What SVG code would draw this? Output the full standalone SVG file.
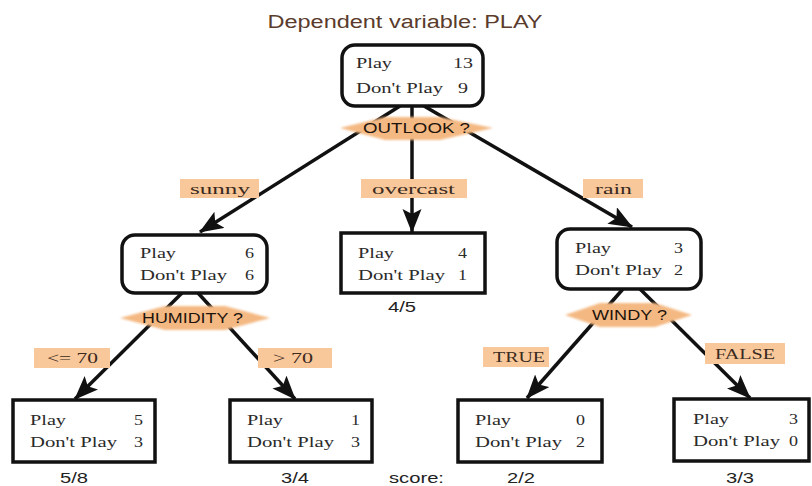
<svg xmlns="http://www.w3.org/2000/svg" width="812" height="486" viewBox="0 0 812 486">
<defs>
<style>
.box{fill:#fff;stroke:#111;stroke-width:3.5}
.nt{font-family:"Liberation Serif","Times New Roman",serif;font-size:14.5px;fill:#2a2a2a}
.num{font-family:"Liberation Serif","Times New Roman",serif;font-size:14.5px;fill:#2a2a2a;text-anchor:end}
.lab{fill:#f8c89b}
.lt{font-family:"Liberation Serif","Times New Roman",serif;font-size:14.5px;fill:#3a2a20}
.dia{fill:#f4b983;filter:url(#soft)}
.dt{font-family:"Liberation Sans",Arial,sans-serif;font-size:14px;fill:#1e140c}
.sc{font-family:"Liberation Sans",Arial,sans-serif;font-size:15px;fill:#222}
.edge{stroke:#111;stroke-width:3.5;fill:none;marker-end:url(#ah)}
</style>
<marker id="ah" markerUnits="userSpaceOnUse" markerWidth="26" markerHeight="20" refX="23" refY="9.5" orient="auto">
<path d="M0,0 L24,9.5 L0,19 L5,9.5 Z" fill="#111"/>
</marker>
<filter id="soft" x="-10%" y="-40%" width="120%" height="180%">
<feGaussianBlur stdDeviation="1.3"/>
</filter>
</defs>
<rect width="812" height="486" fill="#fff"/>

<text x="405" y="28" text-anchor="middle" font-family="Liberation Sans, Arial, sans-serif" font-size="18" fill="#5a3b2c" textLength="275" lengthAdjust="spacingAndGlyphs">Dependent variable: PLAY</text>

<g id="connectors">
<line class="edge" x1="400" y1="106" x2="200" y2="232"/>
<line class="edge" x1="412" y1="106" x2="412" y2="232"/>
<line class="edge" x1="424" y1="106" x2="632" y2="227"/>
<line class="edge" x1="182" y1="293" x2="75" y2="399"/>
<line class="edge" x1="198" y1="293" x2="295" y2="399"/>
<line class="edge" x1="623" y1="289" x2="527" y2="398"/>
<line class="edge" x1="640" y1="289" x2="750" y2="398"/>
</g>

<g id="label-sunny"><rect class="lab" x="180" y="179" width="79" height="19"/><text class="lt" x="190" y="194" textLength="60" lengthAdjust="spacingAndGlyphs">sunny</text></g>
<g id="label-overcast"><rect class="lab" x="361" y="179" width="106" height="19"/><text class="lt" x="372" y="194" textLength="83" lengthAdjust="spacingAndGlyphs">overcast</text></g>
<g id="label-rain"><rect class="lab" x="583" y="179" width="60" height="19"/><text class="lt" x="595" y="194" textLength="37" lengthAdjust="spacingAndGlyphs">rain</text></g>
<g id="label-le70"><rect class="lab" x="34" y="348" width="76" height="20"/><text class="lt" x="47" y="363" textLength="51" lengthAdjust="spacingAndGlyphs">&lt;= 70</text></g>
<g id="label-gt70"><rect class="lab" x="258" y="348" width="74" height="20"/><text class="lt" x="273" y="363" textLength="40" lengthAdjust="spacingAndGlyphs">&gt; 70</text></g>
<g id="label-true"><rect class="lab" x="483" y="347" width="66" height="20"/><text class="lt" x="493" y="362" textLength="52" lengthAdjust="spacingAndGlyphs">TRUE</text></g>
<g id="label-false"><rect class="lab" x="705" y="343" width="80" height="21"/><text class="lt" x="715" y="359" textLength="60" lengthAdjust="spacingAndGlyphs">FALSE</text></g>

<g id="root">
<rect class="box" x="342" y="45" width="141" height="61" rx="13"/>
<text class="nt" x="356" y="68" textLength="36" lengthAdjust="spacingAndGlyphs">Play</text>
<text class="num" x="473" y="68" textLength="20" lengthAdjust="spacingAndGlyphs">13</text>
<text class="nt" x="356" y="93" textLength="87" lengthAdjust="spacingAndGlyphs">Don't Play</text>
<text class="num" x="468" y="93" textLength="10" lengthAdjust="spacingAndGlyphs">9</text>
</g>

<g id="split-outlook">
<polygon class="dia" points="340,128 385,117 440,117 493,128 440,140 385,140"/>
<text class="dt" x="363" y="133" textLength="107" lengthAdjust="spacingAndGlyphs">OUTLOOK ?</text>
</g>

<g id="sunny-node">
<rect class="box" x="122" y="235" width="145" height="58" rx="13"/>
<text class="nt" x="140" y="258" textLength="36" lengthAdjust="spacingAndGlyphs">Play</text>
<text class="num" x="254" y="258" textLength="9" lengthAdjust="spacingAndGlyphs">6</text>
<text class="nt" x="140" y="280" textLength="87" lengthAdjust="spacingAndGlyphs">Don't Play</text>
<text class="num" x="254" y="280" textLength="9" lengthAdjust="spacingAndGlyphs">6</text>
</g>

<g id="overcast-node">
<rect class="box" x="341" y="233" width="144" height="60"/>
<text class="nt" x="358" y="258" textLength="36" lengthAdjust="spacingAndGlyphs">Play</text>
<text class="num" x="467" y="258" textLength="9" lengthAdjust="spacingAndGlyphs">4</text>
<text class="nt" x="358" y="280" textLength="87" lengthAdjust="spacingAndGlyphs">Don't Play</text>
<text class="num" x="467" y="280" textLength="9" lengthAdjust="spacingAndGlyphs">1</text>
</g>
<text class="sc" x="402" y="312" text-anchor="middle" textLength="28" lengthAdjust="spacingAndGlyphs">4/5</text>

<g id="rain-node">
<rect class="box" x="557" y="229" width="144" height="60" rx="13"/>
<text class="nt" x="575" y="253" textLength="36" lengthAdjust="spacingAndGlyphs">Play</text>
<text class="num" x="683" y="253" textLength="9" lengthAdjust="spacingAndGlyphs">3</text>
<text class="nt" x="575" y="275" textLength="87" lengthAdjust="spacingAndGlyphs">Don't Play</text>
<text class="num" x="683" y="275" textLength="9" lengthAdjust="spacingAndGlyphs">2</text>
</g>

<g id="split-humidity">
<polygon class="dia" points="120,318 165,306 225,306 270,318 225,330 165,330"/>
<text class="dt" x="142" y="323" textLength="101" lengthAdjust="spacingAndGlyphs">HUMIDITY ?</text>
</g>

<g id="split-windy">
<polygon class="dia" points="565,315 600,303 655,303 692,315 655,327 600,327"/>
<text class="dt" x="592" y="320" textLength="75" lengthAdjust="spacingAndGlyphs">WINDY ?</text>
</g>

<g id="leaf-le70">
<rect class="box" x="13" y="400" width="142" height="62"/>
<text class="nt" x="30" y="425" textLength="36" lengthAdjust="spacingAndGlyphs">Play</text>
<text class="num" x="143" y="425" textLength="9" lengthAdjust="spacingAndGlyphs">5</text>
<text class="nt" x="30" y="447" textLength="87" lengthAdjust="spacingAndGlyphs">Don't Play</text>
<text class="num" x="143" y="447" textLength="9" lengthAdjust="spacingAndGlyphs">3</text>
</g>

<g id="leaf-gt70">
<rect class="box" x="230" y="400" width="142" height="62"/>
<text class="nt" x="247" y="425" textLength="36" lengthAdjust="spacingAndGlyphs">Play</text>
<text class="num" x="360" y="425" textLength="9" lengthAdjust="spacingAndGlyphs">1</text>
<text class="nt" x="247" y="447" textLength="87" lengthAdjust="spacingAndGlyphs">Don't Play</text>
<text class="num" x="360" y="447" textLength="9" lengthAdjust="spacingAndGlyphs">3</text>
</g>

<g id="leaf-true">
<rect class="box" x="458" y="400" width="144" height="62"/>
<text class="nt" x="475" y="425" textLength="36" lengthAdjust="spacingAndGlyphs">Play</text>
<text class="num" x="585" y="425" textLength="9" lengthAdjust="spacingAndGlyphs">0</text>
<text class="nt" x="475" y="447" textLength="87" lengthAdjust="spacingAndGlyphs">Don't Play</text>
<text class="num" x="585" y="447" textLength="9" lengthAdjust="spacingAndGlyphs">2</text>
</g>

<g id="leaf-false">
<rect class="box" x="674" y="399" width="135" height="62"/>
<text class="nt" x="693" y="424" textLength="36" lengthAdjust="spacingAndGlyphs">Play</text>
<text class="num" x="798" y="424" textLength="9" lengthAdjust="spacingAndGlyphs">3</text>
<text class="nt" x="693" y="446" textLength="87" lengthAdjust="spacingAndGlyphs">Don't Play</text>
<text class="num" x="798" y="446" textLength="9" lengthAdjust="spacingAndGlyphs">0</text>
</g>

<g id="scores">
<text class="sc" x="74" y="483" text-anchor="middle" textLength="28" lengthAdjust="spacingAndGlyphs">5/8</text>
<text class="sc" x="295" y="483" text-anchor="middle" textLength="28" lengthAdjust="spacingAndGlyphs">3/4</text>
<text class="sc" x="389" y="483" textLength="55" lengthAdjust="spacingAndGlyphs">score:</text>
<text class="sc" x="521" y="483" text-anchor="middle" textLength="28" lengthAdjust="spacingAndGlyphs">2/2</text>
<text class="sc" x="740" y="483" text-anchor="middle" textLength="28" lengthAdjust="spacingAndGlyphs">3/3</text>
</g>
</svg>
